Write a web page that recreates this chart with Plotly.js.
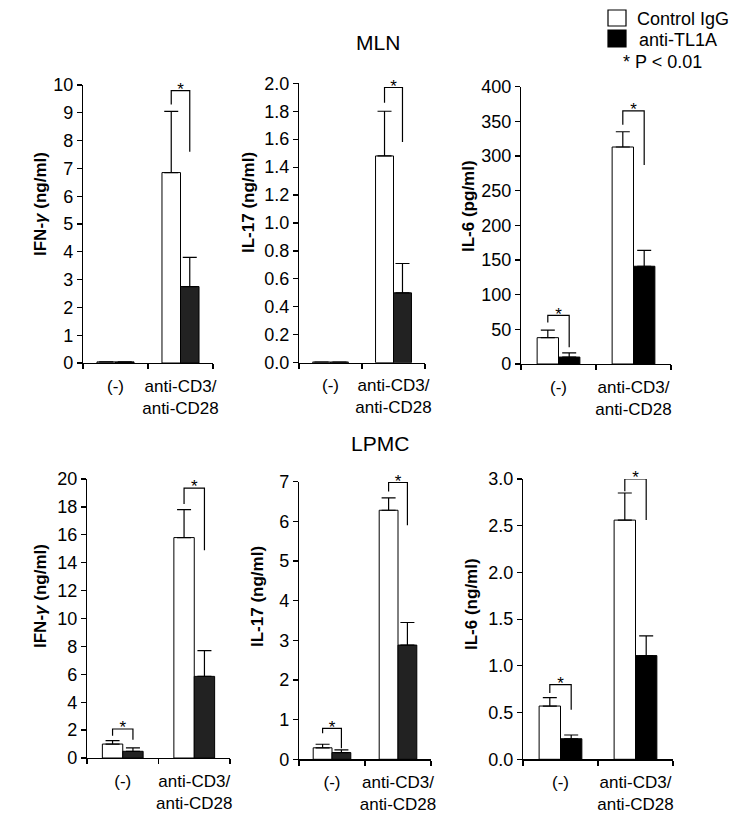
<!DOCTYPE html>
<html>
<head>
<meta charset="utf-8">
<script src="https://cdn.plot.ly/plotly-3.0.1.min.js"></script>
<style>html,body{margin:0;padding:0;background:#fff;}#chart{width:750px;height:825px;}</style>
</head>
<body>
<div id="chart"></div>
<script>
// ---- data ----
var categories = ["(-)", "anti-CD3/<br>anti-CD28"];
var seriesNames = ["Control IgG", "anti-TL1A"];
var panelTitles = ["IFN-<i>γ</i> (ng/ml)", "IL-17 (ng/ml)", "IL-6 (pg/ml)",
                   "IFN-<i>γ</i> (ng/ml)", "IL-17 (ng/ml)", "IL-6 (ng/ml)"];
var groupTitles = ["MLN", "LPMC"];
var pNote = "* P < 0.01";

// values per panel: [(-), anti-CD3/anti-CD28]
var ctrlMLN_IFNg = [0.04, 6.85],  ctrlErrMLN_IFNg = [null, 2.2];
var antiMLN_IFNg = [0.04, 2.75],  antiErrMLN_IFNg = [null, 1.05];
var ctrlMLN_IL17 = [0.005, 1.48], ctrlErrMLN_IL17 = [null, 0.32];
var antiMLN_IL17 = [0.005, 0.50], antiErrMLN_IL17 = [null, 0.21];
var ctrlMLN_IL6 = [38, 313],      ctrlErrMLN_IL6 = [11, 22];
var antiMLN_IL6 = [10, 141],      antiErrMLN_IL6 = [6, 23];
var ctrlLPMC_IFNg = [1.0, 15.8],  ctrlErrLPMC_IFNg = [0.24, 2.0];
var antiLPMC_IFNg = [0.48, 5.85], antiErrLPMC_IFNg = [0.24, 1.85];
var ctrlLPMC_IL17 = [0.29, 6.28], ctrlErrLPMC_IL17 = [0.09, 0.31];
var antiLPMC_IL17 = [0.17, 2.88], antiErrLPMC_IL17 = [0.07, 0.57];
var ctrlLPMC_IL6 = [0.57, 2.56],  ctrlErrLPMC_IL6 = [0.09, 0.29];
var antiLPMC_IL6 = [0.22, 1.11],  antiErrLPMC_IL6 = [0.04, 0.21];

// significance brackets: [categoryIndex, top, leftEnd, rightEnd]
var sigMLN_IFNg = [[1, 9.8, 9.3, 7.6]];
var sigMLN_IL17 = [[1, 1.97, 1.86, 1.58]];
var sigMLN_IL6 = [[0, 70, 60, 24], [1, 365, 345, 287]];
var sigLPMC_IFNg = [[0, 2.08, 1.6, 1.3], [1, 19.35, 18.2, 14.9]];
var sigLPMC_IL17 = [[0, 0.78, 0.66, 0.28], [1, 6.98, 6.75, 5.9]];
var sigLPMC_IL6 = [[0, 0.80, 0.71, 0.53], [1, 3.0, 2.87, 2.56]];

// axis ranges / ticks
var yMax = [10, 2.0, 400, 20, 7, 3.0];
var yDtick = [1, 0.2, 50, 2, 1, 0.5];
var yFormat = ["", ".1f", "", "", "", ".1f"];

// ---- layout geometry (pixels) ----
var W = 750, H = 825;
var geom = [
  {l: 83, r: 213, t: 85, b: 363, tx: 40, ty: 204},
  {l: 299, r: 425, t: 83.3, b: 362.7, tx: 248, ty: 203},
  {l: 521, r: 671, t: 86.7, b: 364, tx: 468, ty: 206},
  {l: 87, r: 230, t: 479, b: 758, tx: 40, ty: 596},
  {l: 299, r: 431, t: 481.7, b: 759.3, tx: 257, ty: 597},
  {l: 523, r: 673, t: 479, b: 759.3, tx: 471, ty: 604}
];
var antiColors = ["#222", "#222", "#000", "#222", "#222", "#000"];

var panels = [
  [ctrlMLN_IFNg, ctrlErrMLN_IFNg, antiMLN_IFNg, antiErrMLN_IFNg, sigMLN_IFNg],
  [ctrlMLN_IL17, ctrlErrMLN_IL17, antiMLN_IL17, antiErrMLN_IL17, sigMLN_IL17],
  [ctrlMLN_IL6, ctrlErrMLN_IL6, antiMLN_IL6, antiErrMLN_IL6, sigMLN_IL6],
  [ctrlLPMC_IFNg, ctrlErrLPMC_IFNg, antiLPMC_IFNg, antiErrLPMC_IFNg, sigLPMC_IFNg],
  [ctrlLPMC_IL17, ctrlErrLPMC_IL17, antiLPMC_IL17, antiErrLPMC_IL17, sigLPMC_IL17],
  [ctrlLPMC_IL6, ctrlErrLPMC_IL6, antiLPMC_IL6, antiErrLPMC_IL6, sigLPMC_IL6]
];

var FONT = "Liberation Sans, Arial, Helvetica, sans-serif";
var xPos = [0, 1];
var barOff = 0.1425;
var traces = [];
var layout = {
  width: W, height: H,
  margin: {l: 0, r: 0, t: 0, b: 0},
  paper_bgcolor: "#fff", plot_bgcolor: "rgba(0,0,0,0)",
  barmode: "group", bargap: 0.43, bargroupgap: 0,
  font: {family: FONT, color: "#000", size: 18},
  showlegend: false,
  annotations: [],
  shapes: []
};

panels.forEach(function (p, i) {
  var n = i === 0 ? "" : String(i + 1);
  var xa = "x" + n, ya = "y" + n;
  var g = geom[i];
  var zeroArr = [0, 0];
  traces.push({
    type: "bar", x: xPos, y: p[0], xaxis: xa, yaxis: ya,
    name: seriesNames[0], legendgroup: "c",
    marker: {color: "#fff", line: {color: "#000", width: 1}},
    error_y: {type: "data", symmetric: false, array: p[1], arrayminus: zeroArr,
              color: "#000", thickness: 1.2, width: 7},
    hoverinfo: "skip"
  });
  traces.push({
    type: "bar", x: xPos, y: p[2], xaxis: xa, yaxis: ya,
    name: seriesNames[1], legendgroup: "a",
    marker: {color: antiColors[i], line: {color: "#000", width: 1}},
    error_y: {type: "data", symmetric: false, array: p[3], arrayminus: zeroArr,
              color: "#000", thickness: 1.2, width: 7},
    hoverinfo: "skip"
  });
  p[4].forEach(function (s) {
    var c = s[0];
    traces.push({
      type: "scatter", mode: "lines", xaxis: xa, yaxis: ya,
      x: [c - barOff, c - barOff, c + barOff, c + barOff],
      y: [s[2], s[1], s[1], s[3]],
      line: {color: "#000", width: 1.2}, cliponaxis: false,
      showlegend: false, hoverinfo: "skip"
    });
    traces.push({
      type: "scatter", mode: "text", xaxis: xa, yaxis: ya,
      x: [c], y: [s[1]], text: ["*"], textposition: "middle center",
      textfont: {size: 17, family: FONT, color: "#000"}, cliponaxis: false,
      showlegend: false, hoverinfo: "skip"
    });
  });

  layout["xaxis" + n] = {
    domain: [g.l / W, g.r / W], anchor: ya, range: [-0.5, 1.5],
    showline: true, linecolor: "#000", linewidth: 1.2,
    showgrid: false, zeroline: false, fixedrange: true,
    tickmode: "array", tickvals: xPos, ticktext: categories,
    ticks: "outside", ticklen: 7, tickcolor: "rgba(0,0,0,0)",
    tickfont: {size: 17, family: FONT},
    minor: {tickmode: "array", tickvals: [-0.5, 0.5, 1.5], ticks: "outside",
            ticklen: 5, tickcolor: "#000", tickwidth: 1.2, showgrid: false}
  };
  layout["yaxis" + n] = {
    domain: [1 - g.b / H, 1 - g.t / H], anchor: xa, range: [0, yMax[i]],
    showline: true, linecolor: "#000", linewidth: 1.2,
    showgrid: false, zeroline: false, fixedrange: true,
    ticks: "outside", ticklen: 5, tickwidth: 1.2, tickcolor: "#000",
    dtick: yDtick[i], tick0: 0, tickformat: yFormat[i],
    tickfont: {size: 18, family: FONT}
  };
  layout.annotations.push({
    xref: "paper", yref: "paper", x: g.tx / W, y: 1 - g.ty / H,
    text: "<b>" + panelTitles[i] + "</b>", textangle: -90, showarrow: false,
    xanchor: "center", yanchor: "middle", font: {size: 17, family: FONT}
  });
});

// group titles
layout.annotations.push({
  xref: "paper", yref: "paper", x: 378 / W, y: 1 - 42.5 / H, text: groupTitles[0],
  showarrow: false, xanchor: "center", yanchor: "middle", font: {size: 21, family: FONT}
});
layout.annotations.push({
  xref: "paper", yref: "paper", x: 380 / W, y: 1 - 443 / H, text: groupTitles[1],
  showarrow: false, xanchor: "center", yanchor: "middle", font: {size: 21, family: FONT}
});

// legend (drawn as key boxes + labels)
var legendRows = [
  {fill: "#fff", y0: 10, y1: 26, ty: 19, tx: 635},
  {fill: "#000", y0: 30, y1: 47, ty: 40, tx: 637}
];
legendRows.forEach(function (r, k) {
  layout.shapes.push({
    type: "rect", xref: "paper", yref: "paper",
    x0: 608 / W, x1: 626 / W, y0: 1 - r.y1 / H, y1: 1 - r.y0 / H,
    fillcolor: r.fill, line: {color: "#000", width: 1.2}
  });
  layout.annotations.push({
    xref: "paper", yref: "paper", x: r.tx / W, y: 1 - r.ty / H, text: seriesNames[k],
    showarrow: false, xanchor: "left", yanchor: "middle", font: {size: 18, family: FONT}
  });
});
layout.annotations.push({
  xref: "paper", yref: "paper", x: 621 / W, y: 1 - 62 / H, text: pNote,
  showarrow: false, xanchor: "left", yanchor: "middle", font: {size: 18, family: FONT}
});

Plotly.newPlot("chart", traces, layout, {staticPlot: true, displayModeBar: false});
</script>
</body>
</html>
